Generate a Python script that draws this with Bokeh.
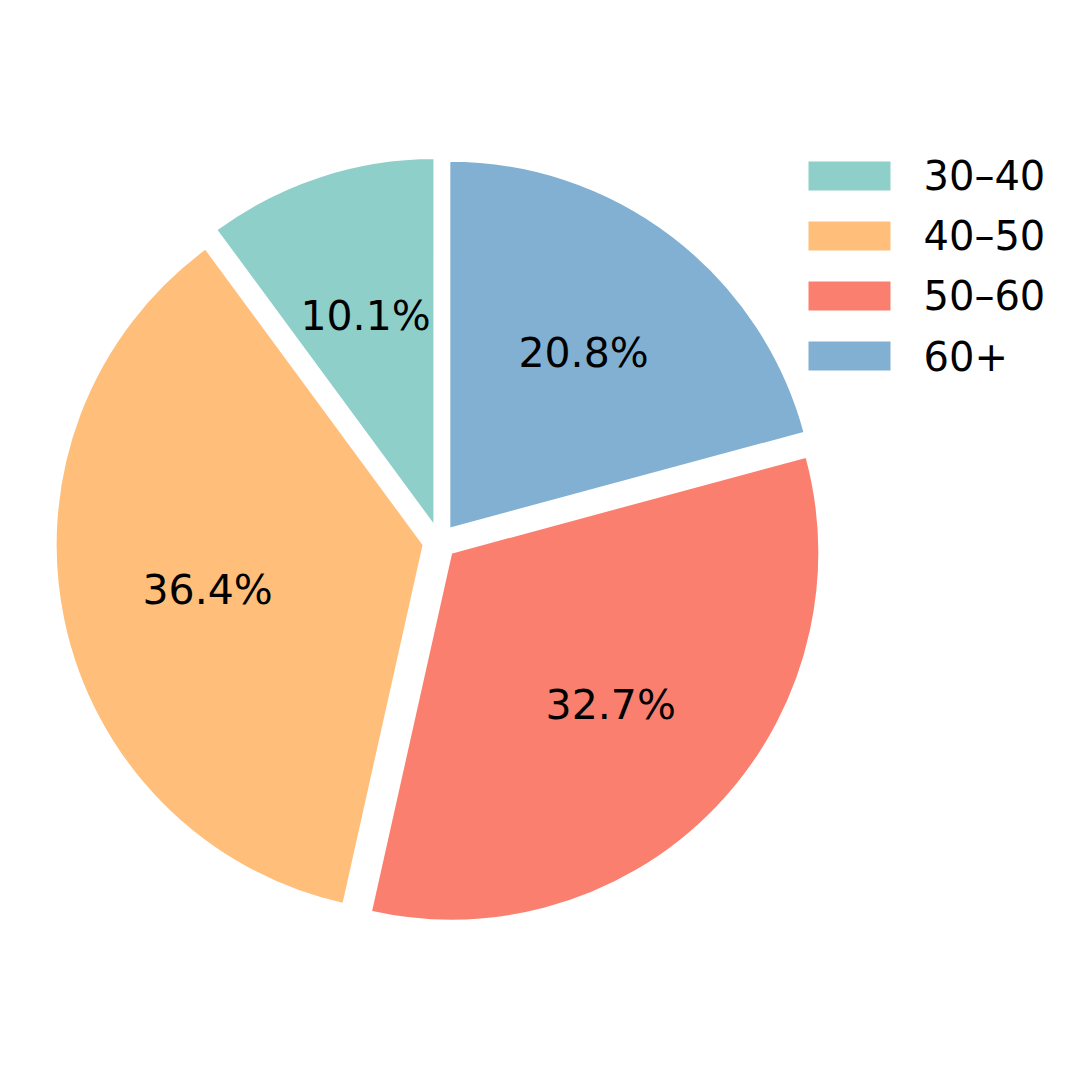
import numpy as np
from bokeh.plotting import figure
from bokeh.models import Range1d, ColumnDataSource
from bokeh.core.properties import value
from bokeh.embed import file_html
from bokeh.resources import INLINE

categories = ["30–40", "40–50", "50–60", "60+"]
shares = [10.1, 36.4, 32.7, 20.8]
colors = ["#8ECFC9", "#FFBE7A", "#FA7F6F", "#82B0D2"]

W, H = 1065, 1063
S = 368.0              # pixels per data unit (pie radius = 1)
CX, CY = 439.0, 541.0  # pie centre in plot pixels
x0 = -CX / S
y1 = CY / S
p = figure(width=W, height=H, output_backend="svg", toolbar_location=None,
           x_range=Range1d(x0, x0 + W / S), y_range=Range1d(y1 - H / S, y1),
           min_border=0)
p.axis.visible = False
p.grid.visible = False
p.outline_line_color = None

def px(xp):
    return x0 + xp / S

def py(yp):
    return y1 - yp / S

tot = sum(shares)
fr = np.array(shares) / tot
start = np.pi / 2 + 2 * np.pi * np.concatenate([[0], np.cumsum(fr)[:-1]])
end = start + 2 * np.pi * fr
mid = (start + end) / 2
explode = 0.044
ox = explode * np.cos(mid)
oy = explode * np.sin(mid)

src = ColumnDataSource(dict(x=ox, y=oy, s=start, e=end, c=colors))
p.wedge(x="x", y="y", radius=1.0, start_angle="s", end_angle="e",
        direction="anticlock", fill_color="c", line_color="white",
        line_width=2, source=src)

lab = [f"{v:.1f}%" for v in shares]
lx = ox + 0.6 * np.cos(mid)
ly = oy + 0.6 * np.sin(mid)
p.text(x=list(lx), y=list(ly), text=lab, text_align="center",
       text_baseline="middle", text_font=value("DejaVu Sans"),
       text_font_size="41px", text_color="black")

# legend
n = len(categories)
leg_y = [py(175.5 + 60 * i) for i in range(n)]
p.rect(x=[px(849)] * n, y=leg_y, width=82 / S, height=29 / S,
       fill_color=colors, line_color=None)
p.text(x=[px(923)] * n, y=leg_y, text=categories, text_align="left",
       text_baseline="middle", text_font=value("DejaVu Sans"),
       text_font_size="40px", text_color="black")

open("out.html", "w").write(file_html(p, INLINE))
